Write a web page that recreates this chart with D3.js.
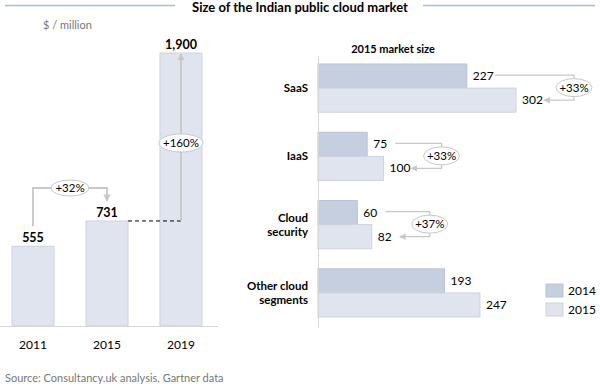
<!DOCTYPE html>
<head>
  <meta charset="utf-8">
  <script src="https://d3js.org/d3.v7.min.js"></script>
  <style>
body { margin: 0; background: #fff; }
text { font-family: Lato, "Open Sans", sans-serif; }
.bold { font-weight: 700; fill: #000; }
.note { fill: #777; font-size: 11px; }
.conn { fill: none; stroke: #c8c8c8; }
  </style>
</head>
<body>
  <script>
    // left chart: total market
    var years = ["2011", "2015", "2019"];
    var marketSize = [555, 731, 1900];
    var marketLabels = ["555", "731", "1,900"];

    // right chart: 2015 market by segment
    var segments = ["SaaS", "IaaS", "Cloud security", "Other cloud segments"];
    var segmentLines = [["SaaS"], ["IaaS"], ["Cloud", "security"], ["Other cloud", "segments"]];
    var series = ["2014", "2015"];
    var size2014 = [227, 75, 60, 193];
    var size2015 = [302, 100, 82, 247];
    var showGrowth = [true, true, true, false];

    var colors = {"2014": "#c6cfe0", "2015": "#dfe4ee"};
    var strokes = {"2014": "#b9c3d6", "2015": "#cdd3df"};
    var pct = function(a, b) { return "+" + Math.round((b / a - 1) * 100) + "%"; };

    var svg = d3.select("body").append("svg")
      .attr("width", 600)
      .attr("height", 387);

    var defs = svg.append("defs");
    defs.append("marker")
      .attr("id", "arr")
      .attr("viewBox", "0 0 10 10")
      .attr("refX", 9).attr("refY", 5)
      .attr("markerWidth", 4).attr("markerHeight", 4)
      .attr("markerUnits", "strokeWidth")
      .attr("orient", "auto")
      .append("path").attr("d", "M0,0L10,5L0,10Z").attr("fill", "#c8c8c8");
    defs.append("marker")
      .attr("id", "arr2")
      .attr("viewBox", "0 0 10 10")
      .attr("refX", 9).attr("refY", 5)
      .attr("markerWidth", 5).attr("markerHeight", 5)
      .attr("markerUnits", "strokeWidth")
      .attr("orient", "auto")
      .append("path").attr("d", "M0,0L10,5L0,10Z").attr("fill", "#c8c8c8");

    // title with rules either side
    svg.append("line").attr("x1", 5).attr("x2", 175).attr("y1", 5.5).attr("y2", 5.5)
      .attr("stroke", "#a9bfe0").attr("stroke-width", 1.5);
    svg.append("line").attr("x1", 423).attr("x2", 595).attr("y1", 5.5).attr("y2", 5.5)
      .attr("stroke", "#a9bfe0").attr("stroke-width", 1.5);
    svg.append("text").attr("class", "bold")
      .attr("x", 300).attr("y", 12).attr("text-anchor", "middle")
      .style("font-size", "13px")
      .text("Size of the Indian public cloud market");

    svg.append("text").attr("class", "note")
      .attr("x", 43).attr("y", 29).text("$ / million");

    // ---- left bar chart ----
    var x = d3.scaleBand().domain(years).range([12, 202]).paddingInner(0.432).paddingOuter(0);
    var y = d3.scaleLinear().domain([0, 1900]).range([326, 53]);
    var cx = function(yr) { return x(yr) + x.bandwidth() / 2; };

    var left = svg.append("g");
    left.selectAll("rect")
      .data(years)
      .enter().append("rect")
      .attr("x", d => x(d))
      .attr("y", (d, i) => y(marketSize[i]))
      .attr("width", x.bandwidth())
      .attr("height", (d, i) => y(0) - y(marketSize[i]))
      .attr("fill", colors["2015"])
      .attr("stroke", strokes["2015"]);

    left.append("line").attr("x1", 0).attr("x2", 218).attr("y1", y(0) + 0.5).attr("y2", y(0) + 0.5)
      .attr("stroke", "#d6d6d6");

    left.selectAll(".yr")
      .data(years)
      .enter().append("text")
      .attr("class", "yr")
      .attr("x", d => cx(d)).attr("y", 349)
      .attr("text-anchor", "middle")
      .style("font-size", "12px")
      .text(d => d);

    left.selectAll(".val")
      .data(years)
      .enter().append("text")
      .attr("class", "val bold")
      .attr("x", d => cx(d)).attr("y", (d, i) => y(marketSize[i]) - 4)
      .attr("text-anchor", "middle")
      .style("font-size", "12.5px")
      .text((d, i) => marketLabels[i]);

    // +32% connector
    var yTop = 188;
    left.append("path").attr("class", "conn")
      .attr("stroke-width", 1.8)
      .attr("marker-end", "url(#arr)")
      .attr("d", `M${cx("2011")},${y(marketSize[0]) - 20}V${yTop}H${cx("2015")}V${y(marketSize[1]) - 20}`);
    left.append("ellipse").attr("cx", 70).attr("cy", yTop).attr("rx", 19).attr("ry", 8)
      .attr("fill", "#fff").attr("stroke", "#c8c8c8");
    left.append("text").attr("x", 70).attr("y", yTop + 4).attr("text-anchor", "middle")
      .style("font-size", "11.5px").text(pct(marketSize[0], marketSize[1]));

    // dashed level + 160% arrow
    left.append("line")
      .attr("x1", x("2015") + x.bandwidth()).attr("x2", cx("2019"))
      .attr("y1", y(marketSize[1])).attr("y2", y(marketSize[1]))
      .attr("stroke", "#000").attr("stroke-dasharray", "4,3");
    left.append("line").attr("class", "conn")
      .attr("stroke-width", 1.8)
      .attr("marker-end", "url(#arr)")
      .attr("x1", cx("2019")).attr("x2", cx("2019"))
      .attr("y1", y(marketSize[1])).attr("y2", y(marketSize[2]) + 1);
    left.append("ellipse").attr("cx", cx("2019")).attr("cy", 143).attr("rx", 22).attr("ry", 9)
      .attr("fill", "#fff").attr("stroke", "#c8c8c8");
    left.append("text").attr("x", cx("2019")).attr("y", 147).attr("text-anchor", "middle")
      .style("font-size", "11.5px").text(pct(marketSize[1], marketSize[2]));

    // ---- right bar chart ----
    var right = svg.append("g");
    right.append("text").attr("class", "bold")
      .attr("x", 393).attr("y", 53).attr("text-anchor", "middle")
      .style("font-size", "11px")
      .text("2015 market size");

    var yb = d3.scaleBand().domain(segments).range([64, 317]).paddingInner(0.294).paddingOuter(0);
    var ys = d3.scaleBand().domain(series).range([0, yb.bandwidth()]);
    var xs = d3.scaleLinear().domain([0, 302]).range([318, 516]);
    var vals = {"2014": size2014, "2015": size2015};

    var groups = right.selectAll(".seg")
      .data(segments)
      .enter().append("g")
      .attr("class", "seg")
      .attr("transform", d => `translate(0,${yb(d)})`);

    series.forEach(function(s) {
      groups.append("rect")
        .attr("x", xs(0))
        .attr("y", ys(s))
        .attr("width", (d, i) => xs(vals[s][i]) - xs(0))
        .attr("height", ys.bandwidth())
        .attr("fill", colors[s])
        .attr("stroke", strokes[s]);
      groups.append("text")
        .attr("x", (d, i) => xs(vals[s][i]) + 6)
        .attr("y", ys(s) + ys.bandwidth() / 2 + 4)
        .style("font-size", "12px")
        .text((d, i) => vals[s][i]);
    });

    groups.append("text")
      .attr("class", "bold")
      .attr("text-anchor", "end")
      .style("font-size", "11.5px")
      .selectAll("tspan")
      .data((d, i) => segmentLines[i].map((t, j) => ({t: t, j: j, n: segmentLines[i].length})))
      .enter().append("tspan")
      .attr("x", 308)
      .attr("y", d => yb.bandwidth() / 2 + 4 + (d.j - (d.n - 1) / 2) * 14)
      .text(d => d.t);

    right.append("line").attr("x1", 318.5).attr("x2", 318.5).attr("y1", 56).attr("y2", 328)
      .attr("stroke", "#d6d6d6");

    // growth connectors
    var gTop = ys("2014") + ys.bandwidth() / 2 - 1;
    var gBot = ys("2015") + ys.bandwidth() / 2;
    groups.filter((d, i) => showGrowth[i]).each(function(d) {
      var i = segments.indexOf(d);
      var g = d3.select(this);
      var x1 = xs(size2014[i]) + 28;
      var x2 = xs(size2015[i]) + 28;
      var ex = Math.max(x1, x2) + 30;
      g.append("path").attr("class", "conn")
        .attr("stroke-width", 1.3)
        .attr("marker-end", "url(#arr2)")
        .attr("d", `M${x1},${gTop}H${ex}V${gBot}H${x2}`);
      g.append("ellipse").attr("cx", ex).attr("cy", (gTop + gBot) / 2)
        .attr("rx", 18).attr("ry", 9)
        .attr("fill", "#fff").attr("stroke", "#c8c8c8");
      g.append("text").attr("x", ex).attr("y", (gTop + gBot) / 2 + 4)
        .attr("text-anchor", "middle")
        .style("font-size", "11.5px")
        .text(pct(size2014[i], size2015[i]));
    });

    // legend
    var lg = right.selectAll(".lg")
      .data(series)
      .enter().append("g")
      .attr("class", "lg")
      .attr("transform", (d, i) => `translate(546,${284 + i * 19})`);
    lg.append("rect").attr("width", 17).attr("height", 13)
      .attr("fill", d => colors[d]).attr("stroke", d => strokes[d]);
    lg.append("text").attr("x", 22).attr("y", 11).style("font-size", "12px").text(d => d);

    svg.append("text").attr("class", "note")
      .attr("x", 5).attr("y", 382)
      .text("Source: Consultancy.uk analysis, Gartner data");
  </script>
</body>
